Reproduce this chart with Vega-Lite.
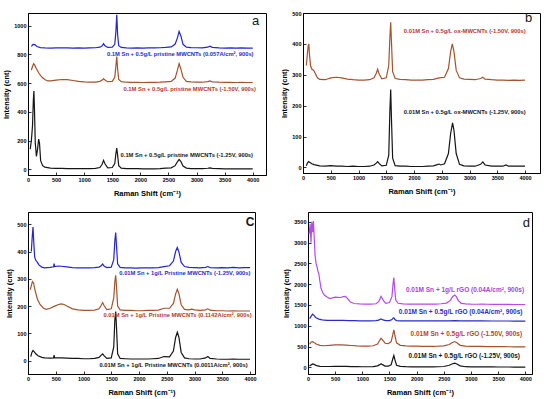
{
 "$schema": "https://vega.github.io/schema/vega-lite/v6.json",
 "padding": {"left": 2, "top": 10, "right": 0, "bottom": 0},
 "background": "white",
 "spacing": 13,
 "datasets": {
  "one": [{}],
  "a": [
   {"s":"a1","x":60,"y":855},{"s":"a1","x":90,"y":870},{"s":"a1","x":120,"y":868},{"s":"a1","x":160,"y":855},{"s":"a1","x":220,"y":847},{"s":"a1","x":300,"y":845},{"s":"a1","x":400,"y":844},{"s":"a1","x":500,"y":845},{"s":"a1","x":600,"y":846},{"s":"a1","x":700,"y":845},{"s":"a1","x":800,"y":844},{"s":"a1","x":900,"y":845},{"s":"a1","x":1000,"y":844},{"s":"a1","x":1100,"y":845},{"s":"a1","x":1200,"y":846},{"s":"a1","x":1280,"y":850},{"s":"a1","x":1320,"y":860},{"s":"a1","x":1345,"y":875},{"s":"a1","x":1370,"y":860},{"s":"a1","x":1420,"y":848},{"s":"a1","x":1500,"y":850},{"s":"a1","x":1545,"y":870},{"s":"a1","x":1565,"y":960},{"s":"a1","x":1580,"y":1075},{"s":"a1","x":1595,"y":940},{"s":"a1","x":1615,"y":860},{"s":"a1","x":1660,"y":848},{"s":"a1","x":1750,"y":845},{"s":"a1","x":1850,"y":844},{"s":"a1","x":1950,"y":845},{"s":"a1","x":2050,"y":844},{"s":"a1","x":2150,"y":845},{"s":"a1","x":2250,"y":845},{"s":"a1","x":2350,"y":846},{"s":"a1","x":2450,"y":848},{"s":"a1","x":2550,"y":852},{"s":"a1","x":2620,"y":872},{"s":"a1","x":2660,"y":915},{"s":"a1","x":2690,"y":960},{"s":"a1","x":2720,"y":930},{"s":"a1","x":2760,"y":870},{"s":"a1","x":2820,"y":850},{"s":"a1","x":2900,"y":847},{"s":"a1","x":3000,"y":846},{"s":"a1","x":3100,"y":845},{"s":"a1","x":3200,"y":850},{"s":"a1","x":3240,"y":857},{"s":"a1","x":3280,"y":849},{"s":"a1","x":3400,"y":845},{"s":"a1","x":3500,"y":844},{"s":"a1","x":3600,"y":845},{"s":"a1","x":3700,"y":844},{"s":"a1","x":3800,"y":845},{"s":"a1","x":3900,"y":844},{"s":"a1","x":4000,"y":843},
   {"s":"a2","x":60,"y":690},{"s":"a2","x":80,"y":715},{"s":"a2","x":100,"y":735},{"s":"a2","x":120,"y":725},{"s":"a2","x":150,"y":700},{"s":"a2","x":200,"y":665},{"s":"a2","x":250,"y":640},{"s":"a2","x":300,"y":625},{"s":"a2","x":350,"y":615},{"s":"a2","x":400,"y":615},{"s":"a2","x":500,"y":620},{"s":"a2","x":600,"y":625},{"s":"a2","x":700,"y":624},{"s":"a2","x":800,"y":618},{"s":"a2","x":900,"y":612},{"s":"a2","x":1000,"y":608},{"s":"a2","x":1100,"y":606},{"s":"a2","x":1200,"y":607},{"s":"a2","x":1280,"y":612},{"s":"a2","x":1320,"y":622},{"s":"a2","x":1345,"y":630},{"s":"a2","x":1370,"y":622},{"s":"a2","x":1420,"y":610},{"s":"a2","x":1500,"y":612},{"s":"a2","x":1545,"y":640},{"s":"a2","x":1565,"y":720},{"s":"a2","x":1580,"y":785},{"s":"a2","x":1595,"y":700},{"s":"a2","x":1615,"y":625},{"s":"a2","x":1660,"y":610},{"s":"a2","x":1750,"y":606},{"s":"a2","x":1850,"y":605},{"s":"a2","x":1950,"y":605},{"s":"a2","x":2050,"y":604},{"s":"a2","x":2150,"y":605},{"s":"a2","x":2250,"y":605},{"s":"a2","x":2350,"y":606},{"s":"a2","x":2450,"y":609},{"s":"a2","x":2550,"y":612},{"s":"a2","x":2620,"y":635},{"s":"a2","x":2660,"y":690},{"s":"a2","x":2690,"y":735},{"s":"a2","x":2720,"y":700},{"s":"a2","x":2760,"y":640},{"s":"a2","x":2820,"y":612},{"s":"a2","x":2900,"y":608},{"s":"a2","x":3000,"y":607},{"s":"a2","x":3100,"y":606},{"s":"a2","x":3200,"y":610},{"s":"a2","x":3240,"y":615},{"s":"a2","x":3280,"y":609},{"s":"a2","x":3400,"y":606},{"s":"a2","x":3500,"y":605},{"s":"a2","x":3600,"y":605},{"s":"a2","x":3700,"y":604},{"s":"a2","x":3800,"y":605},{"s":"a2","x":3900,"y":604},{"s":"a2","x":4000,"y":604},
   {"s":"a3","x":40,"y":140},{"s":"a3","x":60,"y":200},{"s":"a3","x":80,"y":300},{"s":"a3","x":95,"y":480},{"s":"a3","x":105,"y":545},{"s":"a3","x":115,"y":420},{"s":"a3","x":130,"y":180},{"s":"a3","x":150,"y":90},{"s":"a3","x":170,"y":140},{"s":"a3","x":190,"y":210},{"s":"a3","x":205,"y":180},{"s":"a3","x":225,"y":60},{"s":"a3","x":260,"y":25},{"s":"a3","x":300,"y":15},{"s":"a3","x":400,"y":8},{"s":"a3","x":500,"y":6},{"s":"a3","x":600,"y":6},{"s":"a3","x":700,"y":5},{"s":"a3","x":800,"y":5},{"s":"a3","x":900,"y":4},{"s":"a3","x":1000,"y":4},{"s":"a3","x":1100,"y":4},{"s":"a3","x":1200,"y":6},{"s":"a3","x":1280,"y":12},{"s":"a3","x":1320,"y":35},{"s":"a3","x":1345,"y":62},{"s":"a3","x":1370,"y":38},{"s":"a3","x":1420,"y":10},{"s":"a3","x":1500,"y":12},{"s":"a3","x":1545,"y":40},{"s":"a3","x":1565,"y":110},{"s":"a3","x":1580,"y":148},{"s":"a3","x":1595,"y":100},{"s":"a3","x":1615,"y":25},{"s":"a3","x":1660,"y":8},{"s":"a3","x":1750,"y":5},{"s":"a3","x":1850,"y":4},{"s":"a3","x":1950,"y":4},{"s":"a3","x":2050,"y":3},{"s":"a3","x":2150,"y":3},{"s":"a3","x":2250,"y":3},{"s":"a3","x":2350,"y":4},{"s":"a3","x":2450,"y":8},{"s":"a3","x":2550,"y":10},{"s":"a3","x":2620,"y":25},{"s":"a3","x":2660,"y":52},{"s":"a3","x":2690,"y":68},{"s":"a3","x":2720,"y":55},{"s":"a3","x":2760,"y":22},{"s":"a3","x":2820,"y":8},{"s":"a3","x":2900,"y":5},{"s":"a3","x":3000,"y":4},{"s":"a3","x":3100,"y":4},{"s":"a3","x":3200,"y":7},{"s":"a3","x":3240,"y":10},{"s":"a3","x":3280,"y":6},{"s":"a3","x":3400,"y":4},{"s":"a3","x":3500,"y":3},{"s":"a3","x":3600,"y":3},{"s":"a3","x":3700,"y":3},{"s":"a3","x":3800,"y":3},{"s":"a3","x":3900,"y":2},{"s":"a3","x":4000,"y":2}
  ],
  "b": [
   {"s":"b1","x":60,"y":330},{"s":"b1","x":80,"y":370},{"s":"b1","x":95,"y":395},{"s":"b1","x":105,"y":400},{"s":"b1","x":115,"y":370},{"s":"b1","x":135,"y":330},{"s":"b1","x":160,"y":318},{"s":"b1","x":190,"y":315},{"s":"b1","x":220,"y":305},{"s":"b1","x":260,"y":290},{"s":"b1","x":300,"y":285},{"s":"b1","x":400,"y":284},{"s":"b1","x":500,"y":290},{"s":"b1","x":600,"y":292},{"s":"b1","x":700,"y":290},{"s":"b1","x":800,"y":286},{"s":"b1","x":900,"y":284},{"s":"b1","x":1000,"y":283},{"s":"b1","x":1100,"y":283},{"s":"b1","x":1200,"y":284},{"s":"b1","x":1280,"y":290},{"s":"b1","x":1320,"y":305},{"s":"b1","x":1345,"y":318},{"s":"b1","x":1370,"y":303},{"s":"b1","x":1420,"y":287},{"s":"b1","x":1500,"y":290},{"s":"b1","x":1545,"y":330},{"s":"b1","x":1565,"y":420},{"s":"b1","x":1580,"y":470},{"s":"b1","x":1595,"y":400},{"s":"b1","x":1615,"y":310},{"s":"b1","x":1660,"y":288},{"s":"b1","x":1750,"y":285},{"s":"b1","x":1850,"y":284},{"s":"b1","x":1950,"y":283},{"s":"b1","x":2050,"y":283},{"s":"b1","x":2150,"y":283},{"s":"b1","x":2250,"y":284},{"s":"b1","x":2350,"y":285},{"s":"b1","x":2450,"y":290},{"s":"b1","x":2550,"y":292},{"s":"b1","x":2620,"y":320},{"s":"b1","x":2660,"y":375},{"s":"b1","x":2690,"y":400},{"s":"b1","x":2720,"y":375},{"s":"b1","x":2760,"y":315},{"s":"b1","x":2820,"y":290},{"s":"b1","x":2900,"y":286},{"s":"b1","x":3000,"y":285},{"s":"b1","x":3100,"y":284},{"s":"b1","x":3200,"y":288},{"s":"b1","x":3240,"y":292},{"s":"b1","x":3280,"y":286},{"s":"b1","x":3400,"y":284},{"s":"b1","x":3500,"y":283},{"s":"b1","x":3600,"y":283},{"s":"b1","x":3700,"y":282},{"s":"b1","x":3800,"y":283},{"s":"b1","x":3900,"y":282},{"s":"b1","x":4000,"y":283},
   {"s":"b2","x":60,"y":5},{"s":"b2","x":80,"y":14},{"s":"b2","x":100,"y":19},{"s":"b2","x":120,"y":17},{"s":"b2","x":160,"y":12},{"s":"b2","x":200,"y":9},{"s":"b2","x":300,"y":5},{"s":"b2","x":400,"y":4},{"s":"b2","x":500,"y":6},{"s":"b2","x":600,"y":4},{"s":"b2","x":700,"y":4},{"s":"b2","x":800,"y":3},{"s":"b2","x":900,"y":4},{"s":"b2","x":1000,"y":3},{"s":"b2","x":1100,"y":3},{"s":"b2","x":1200,"y":4},{"s":"b2","x":1280,"y":8},{"s":"b2","x":1320,"y":14},{"s":"b2","x":1345,"y":19},{"s":"b2","x":1370,"y":13},{"s":"b2","x":1420,"y":5},{"s":"b2","x":1500,"y":7},{"s":"b2","x":1545,"y":40},{"s":"b2","x":1565,"y":180},{"s":"b2","x":1580,"y":252},{"s":"b2","x":1595,"y":150},{"s":"b2","x":1615,"y":30},{"s":"b2","x":1660,"y":6},{"s":"b2","x":1750,"y":4},{"s":"b2","x":1850,"y":4},{"s":"b2","x":1950,"y":3},{"s":"b2","x":2050,"y":3},{"s":"b2","x":2150,"y":3},{"s":"b2","x":2250,"y":4},{"s":"b2","x":2350,"y":5},{"s":"b2","x":2420,"y":9},{"s":"b2","x":2450,"y":11},{"s":"b2","x":2480,"y":8},{"s":"b2","x":2550,"y":12},{"s":"b2","x":2620,"y":45},{"s":"b2","x":2660,"y":110},{"s":"b2","x":2695,"y":144},{"s":"b2","x":2720,"y":120},{"s":"b2","x":2760,"y":45},{"s":"b2","x":2820,"y":10},{"s":"b2","x":2900,"y":5},{"s":"b2","x":3000,"y":4},{"s":"b2","x":3100,"y":4},{"s":"b2","x":3200,"y":10},{"s":"b2","x":3240,"y":18},{"s":"b2","x":3280,"y":8},{"s":"b2","x":3400,"y":4},{"s":"b2","x":3500,"y":4},{"s":"b2","x":3600,"y":4},{"s":"b2","x":3660,"y":8},{"s":"b2","x":3700,"y":4},{"s":"b2","x":3800,"y":4},{"s":"b2","x":3900,"y":4},{"s":"b2","x":4000,"y":4}
  ],
  "c": [
   {"s":"c1","x":60,"y":400},{"s":"c1","x":75,"y":450},{"s":"c1","x":90,"y":490},{"s":"c1","x":105,"y":430},{"s":"c1","x":120,"y":380},{"s":"c1","x":140,"y":368},{"s":"c1","x":170,"y":360},{"s":"c1","x":200,"y":350},{"s":"c1","x":250,"y":343},{"s":"c1","x":300,"y":340},{"s":"c1","x":400,"y":342},{"s":"c1","x":460,"y":344},{"s":"c1","x":470,"y":356},{"s":"c1","x":480,"y":345},{"s":"c1","x":550,"y":347},{"s":"c1","x":600,"y":346},{"s":"c1","x":700,"y":344},{"s":"c1","x":800,"y":341},{"s":"c1","x":900,"y":340},{"s":"c1","x":1000,"y":340},{"s":"c1","x":1100,"y":340},{"s":"c1","x":1200,"y":341},{"s":"c1","x":1280,"y":343},{"s":"c1","x":1320,"y":348},{"s":"c1","x":1345,"y":354},{"s":"c1","x":1370,"y":347},{"s":"c1","x":1420,"y":341},{"s":"c1","x":1500,"y":343},{"s":"c1","x":1545,"y":370},{"s":"c1","x":1565,"y":440},{"s":"c1","x":1580,"y":470},{"s":"c1","x":1595,"y":420},{"s":"c1","x":1615,"y":355},{"s":"c1","x":1660,"y":342},{"s":"c1","x":1750,"y":340},{"s":"c1","x":1850,"y":340},{"s":"c1","x":1950,"y":339},{"s":"c1","x":2050,"y":340},{"s":"c1","x":2150,"y":340},{"s":"c1","x":2250,"y":340},{"s":"c1","x":2350,"y":341},{"s":"c1","x":2450,"y":345},{"s":"c1","x":2550,"y":348},{"s":"c1","x":2620,"y":365},{"s":"c1","x":2660,"y":400},{"s":"c1","x":2690,"y":415},{"s":"c1","x":2720,"y":398},{"s":"c1","x":2760,"y":360},{"s":"c1","x":2820,"y":345},{"s":"c1","x":2900,"y":342},{"s":"c1","x":3000,"y":341},{"s":"c1","x":3100,"y":340},{"s":"c1","x":3200,"y":342},{"s":"c1","x":3240,"y":345},{"s":"c1","x":3280,"y":341},{"s":"c1","x":3400,"y":340},{"s":"c1","x":3500,"y":341},{"s":"c1","x":3600,"y":340},{"s":"c1","x":3700,"y":342},{"s":"c1","x":3800,"y":340},{"s":"c1","x":3900,"y":341},{"s":"c1","x":4000,"y":341},
   {"s":"c2","x":40,"y":260},{"s":"c2","x":60,"y":275},{"s":"c2","x":80,"y":290},{"s":"c2","x":100,"y":285},{"s":"c2","x":130,"y":255},{"s":"c2","x":170,"y":225},{"s":"c2","x":220,"y":205},{"s":"c2","x":280,"y":192},{"s":"c2","x":330,"y":188},{"s":"c2","x":400,"y":192},{"s":"c2","x":480,"y":200},{"s":"c2","x":550,"y":206},{"s":"c2","x":600,"y":208},{"s":"c2","x":650,"y":206},{"s":"c2","x":700,"y":200},{"s":"c2","x":800,"y":190},{"s":"c2","x":900,"y":186},{"s":"c2","x":1000,"y":184},{"s":"c2","x":1100,"y":184},{"s":"c2","x":1200,"y":185},{"s":"c2","x":1280,"y":190},{"s":"c2","x":1320,"y":203},{"s":"c2","x":1345,"y":213},{"s":"c2","x":1370,"y":202},{"s":"c2","x":1420,"y":187},{"s":"c2","x":1500,"y":190},{"s":"c2","x":1545,"y":230},{"s":"c2","x":1565,"y":290},{"s":"c2","x":1580,"y":313},{"s":"c2","x":1595,"y":270},{"s":"c2","x":1615,"y":200},{"s":"c2","x":1660,"y":186},{"s":"c2","x":1750,"y":184},{"s":"c2","x":1850,"y":184},{"s":"c2","x":1950,"y":183},{"s":"c2","x":2050,"y":183},{"s":"c2","x":2150,"y":184},{"s":"c2","x":2250,"y":184},{"s":"c2","x":2350,"y":185},{"s":"c2","x":2450,"y":192},{"s":"c2","x":2550,"y":192},{"s":"c2","x":2620,"y":210},{"s":"c2","x":2660,"y":245},{"s":"c2","x":2690,"y":262},{"s":"c2","x":2720,"y":245},{"s":"c2","x":2760,"y":205},{"s":"c2","x":2820,"y":188},{"s":"c2","x":2900,"y":186},{"s":"c2","x":2950,"y":189},{"s":"c2","x":3000,"y":186},{"s":"c2","x":3100,"y":184},{"s":"c2","x":3200,"y":186},{"s":"c2","x":3240,"y":190},{"s":"c2","x":3280,"y":185},{"s":"c2","x":3400,"y":183},{"s":"c2","x":3500,"y":183},{"s":"c2","x":3600,"y":182},{"s":"c2","x":3700,"y":183},{"s":"c2","x":3800,"y":182},{"s":"c2","x":3900,"y":182},{"s":"c2","x":4000,"y":182},
   {"s":"c3","x":50,"y":15},{"s":"c3","x":70,"y":30},{"s":"c3","x":90,"y":37},{"s":"c3","x":110,"y":33},{"s":"c3","x":140,"y":25},{"s":"c3","x":180,"y":18},{"s":"c3","x":250,"y":12},{"s":"c3","x":300,"y":10},{"s":"c3","x":400,"y":9},{"s":"c3","x":460,"y":10},{"s":"c3","x":470,"y":20},{"s":"c3","x":480,"y":10},{"s":"c3","x":550,"y":10},{"s":"c3","x":600,"y":10},{"s":"c3","x":700,"y":9},{"s":"c3","x":800,"y":8},{"s":"c3","x":900,"y":8},{"s":"c3","x":1000,"y":7},{"s":"c3","x":1100,"y":7},{"s":"c3","x":1200,"y":8},{"s":"c3","x":1280,"y":12},{"s":"c3","x":1320,"y":20},{"s":"c3","x":1345,"y":25},{"s":"c3","x":1370,"y":18},{"s":"c3","x":1420,"y":8},{"s":"c3","x":1500,"y":10},{"s":"c3","x":1545,"y":50},{"s":"c3","x":1565,"y":150},{"s":"c3","x":1580,"y":180},{"s":"c3","x":1595,"y":120},{"s":"c3","x":1615,"y":25},{"s":"c3","x":1660,"y":8},{"s":"c3","x":1750,"y":7},{"s":"c3","x":1850,"y":6},{"s":"c3","x":1950,"y":6},{"s":"c3","x":2050,"y":6},{"s":"c3","x":2150,"y":6},{"s":"c3","x":2250,"y":7},{"s":"c3","x":2350,"y":8},{"s":"c3","x":2450,"y":15},{"s":"c3","x":2550,"y":14},{"s":"c3","x":2620,"y":35},{"s":"c3","x":2660,"y":85},{"s":"c3","x":2690,"y":104},{"s":"c3","x":2720,"y":85},{"s":"c3","x":2760,"y":30},{"s":"c3","x":2820,"y":10},{"s":"c3","x":2900,"y":7},{"s":"c3","x":3000,"y":6},{"s":"c3","x":3100,"y":6},{"s":"c3","x":3200,"y":10},{"s":"c3","x":3240,"y":15},{"s":"c3","x":3280,"y":8},{"s":"c3","x":3400,"y":6},{"s":"c3","x":3500,"y":5},{"s":"c3","x":3600,"y":5},{"s":"c3","x":3700,"y":6},{"s":"c3","x":3800,"y":5},{"s":"c3","x":3900,"y":5},{"s":"c3","x":4000,"y":5}
  ],
  "d": [
   {"s":"d1","x":20,"y":3200},{"s":"d1","x":40,"y":3450},{"s":"d1","x":55,"y":3000},{"s":"d1","x":70,"y":3500},{"s":"d1","x":85,"y":3250},{"s":"d1","x":100,"y":3520},{"s":"d1","x":115,"y":3100},{"s":"d1","x":130,"y":2700},{"s":"d1","x":150,"y":2480},{"s":"d1","x":170,"y":2400},{"s":"d1","x":185,"y":2300},{"s":"d1","x":200,"y":2250},{"s":"d1","x":215,"y":2100},{"s":"d1","x":240,"y":1900},{"s":"d1","x":270,"y":1800},{"s":"d1","x":300,"y":1740},{"s":"d1","x":350,"y":1690},{"s":"d1","x":400,"y":1655},{"s":"d1","x":450,"y":1670},{"s":"d1","x":500,"y":1690},{"s":"d1","x":550,"y":1685},{"s":"d1","x":600,"y":1680},{"s":"d1","x":650,"y":1700},{"s":"d1","x":690,"y":1705},{"s":"d1","x":730,"y":1650},{"s":"d1","x":780,"y":1570},{"s":"d1","x":850,"y":1535},{"s":"d1","x":950,"y":1525},{"s":"d1","x":1050,"y":1520},{"s":"d1","x":1150,"y":1520},{"s":"d1","x":1250,"y":1530},{"s":"d1","x":1300,"y":1580},{"s":"d1","x":1345,"y":1705},{"s":"d1","x":1380,"y":1620},{"s":"d1","x":1430,"y":1540},{"s":"d1","x":1500,"y":1560},{"s":"d1","x":1545,"y":1700},{"s":"d1","x":1565,"y":2000},{"s":"d1","x":1580,"y":2160},{"s":"d1","x":1595,"y":1900},{"s":"d1","x":1615,"y":1620},{"s":"d1","x":1660,"y":1540},{"s":"d1","x":1750,"y":1525},{"s":"d1","x":1850,"y":1522},{"s":"d1","x":1950,"y":1520},{"s":"d1","x":2050,"y":1520},{"s":"d1","x":2150,"y":1520},{"s":"d1","x":2250,"y":1520},{"s":"d1","x":2350,"y":1522},{"s":"d1","x":2450,"y":1530},{"s":"d1","x":2550,"y":1545},{"s":"d1","x":2620,"y":1610},{"s":"d1","x":2660,"y":1700},{"s":"d1","x":2700,"y":1740},{"s":"d1","x":2730,"y":1700},{"s":"d1","x":2770,"y":1600},{"s":"d1","x":2820,"y":1540},{"s":"d1","x":2900,"y":1525},{"s":"d1","x":3000,"y":1520},{"s":"d1","x":3100,"y":1518},{"s":"d1","x":3200,"y":1520},{"s":"d1","x":3300,"y":1517},{"s":"d1","x":3400,"y":1515},{"s":"d1","x":3500,"y":1515},{"s":"d1","x":3600,"y":1514},{"s":"d1","x":3700,"y":1513},{"s":"d1","x":3800,"y":1512},{"s":"d1","x":3900,"y":1512},{"s":"d1","x":4000,"y":1512},
   {"s":"d2","x":30,"y":1170},{"s":"d2","x":60,"y":1230},{"s":"d2","x":85,"y":1280},{"s":"d2","x":110,"y":1250},{"s":"d2","x":140,"y":1200},{"s":"d2","x":200,"y":1160},{"s":"d2","x":260,"y":1140},{"s":"d2","x":350,"y":1130},{"s":"d2","x":450,"y":1128},{"s":"d2","x":550,"y":1130},{"s":"d2","x":650,"y":1130},{"s":"d2","x":750,"y":1126},{"s":"d2","x":850,"y":1122},{"s":"d2","x":950,"y":1120},{"s":"d2","x":1050,"y":1120},{"s":"d2","x":1150,"y":1120},{"s":"d2","x":1250,"y":1122},{"s":"d2","x":1300,"y":1135},{"s":"d2","x":1345,"y":1165},{"s":"d2","x":1380,"y":1140},{"s":"d2","x":1430,"y":1122},{"s":"d2","x":1500,"y":1125},{"s":"d2","x":1545,"y":1150},{"s":"d2","x":1570,"y":1190},{"s":"d2","x":1585,"y":1185},{"s":"d2","x":1600,"y":1150},{"s":"d2","x":1630,"y":1125},{"s":"d2","x":1700,"y":1120},{"s":"d2","x":1800,"y":1118},{"s":"d2","x":1900,"y":1118},{"s":"d2","x":2000,"y":1117},{"s":"d2","x":2200,"y":1117},{"s":"d2","x":2400,"y":1118},{"s":"d2","x":2600,"y":1120},{"s":"d2","x":2700,"y":1125},{"s":"d2","x":2800,"y":1120},{"s":"d2","x":3000,"y":1117},{"s":"d2","x":3200,"y":1116},{"s":"d2","x":3400,"y":1115},{"s":"d2","x":3600,"y":1115},{"s":"d2","x":3800,"y":1114},{"s":"d2","x":4000,"y":1114},
   {"s":"d3","x":30,"y":560},{"s":"d3","x":60,"y":610},{"s":"d3","x":85,"y":620},{"s":"d3","x":110,"y":600},{"s":"d3","x":150,"y":560},{"s":"d3","x":220,"y":530},{"s":"d3","x":300,"y":520},{"s":"d3","x":400,"y":530},{"s":"d3","x":500,"y":540},{"s":"d3","x":600,"y":540},{"s":"d3","x":700,"y":535},{"s":"d3","x":800,"y":525},{"s":"d3","x":900,"y":515},{"s":"d3","x":1000,"y":512},{"s":"d3","x":1100,"y":512},{"s":"d3","x":1200,"y":520},{"s":"d3","x":1280,"y":560},{"s":"d3","x":1320,"y":650},{"s":"d3","x":1345,"y":700},{"s":"d3","x":1370,"y":660},{"s":"d3","x":1420,"y":580},{"s":"d3","x":1480,"y":570},{"s":"d3","x":1530,"y":620},{"s":"d3","x":1560,"y":780},{"s":"d3","x":1580,"y":900},{"s":"d3","x":1600,"y":760},{"s":"d3","x":1630,"y":590},{"s":"d3","x":1700,"y":530},{"s":"d3","x":1800,"y":515},{"s":"d3","x":1900,"y":510},{"s":"d3","x":2000,"y":508},{"s":"d3","x":2100,"y":506},{"s":"d3","x":2200,"y":505},{"s":"d3","x":2300,"y":505},{"s":"d3","x":2400,"y":508},{"s":"d3","x":2500,"y":515},{"s":"d3","x":2600,"y":550},{"s":"d3","x":2650,"y":590},{"s":"d3","x":2700,"y":620},{"s":"d3","x":2740,"y":590},{"s":"d3","x":2800,"y":530},{"s":"d3","x":2900,"y":510},{"s":"d3","x":3000,"y":505},{"s":"d3","x":3100,"y":502},{"s":"d3","x":3200,"y":505},{"s":"d3","x":3300,"y":500},{"s":"d3","x":3400,"y":498},{"s":"d3","x":3500,"y":497},{"s":"d3","x":3600,"y":496},{"s":"d3","x":3700,"y":495},{"s":"d3","x":3800,"y":494},{"s":"d3","x":3900,"y":492},{"s":"d3","x":4000,"y":492},
   {"s":"d4","x":30,"y":30},{"s":"d4","x":60,"y":60},{"s":"d4","x":90,"y":80},{"s":"d4","x":120,"y":65},{"s":"d4","x":160,"y":40},{"s":"d4","x":220,"y":25},{"s":"d4","x":300,"y":20},{"s":"d4","x":400,"y":20},{"s":"d4","x":500,"y":25},{"s":"d4","x":600,"y":25},{"s":"d4","x":700,"y":22},{"s":"d4","x":800,"y":18},{"s":"d4","x":900,"y":15},{"s":"d4","x":1000,"y":14},{"s":"d4","x":1100,"y":14},{"s":"d4","x":1200,"y":18},{"s":"d4","x":1280,"y":35},{"s":"d4","x":1320,"y":65},{"s":"d4","x":1345,"y":85},{"s":"d4","x":1370,"y":65},{"s":"d4","x":1420,"y":30},{"s":"d4","x":1480,"y":28},{"s":"d4","x":1530,"y":60},{"s":"d4","x":1560,"y":200},{"s":"d4","x":1580,"y":285},{"s":"d4","x":1600,"y":180},{"s":"d4","x":1630,"y":50},{"s":"d4","x":1700,"y":22},{"s":"d4","x":1800,"y":15},{"s":"d4","x":1900,"y":13},{"s":"d4","x":2000,"y":12},{"s":"d4","x":2100,"y":12},{"s":"d4","x":2200,"y":12},{"s":"d4","x":2300,"y":12},{"s":"d4","x":2400,"y":14},{"s":"d4","x":2500,"y":20},{"s":"d4","x":2600,"y":50},{"s":"d4","x":2650,"y":80},{"s":"d4","x":2700,"y":100},{"s":"d4","x":2740,"y":80},{"s":"d4","x":2800,"y":35},{"s":"d4","x":2900,"y":15},{"s":"d4","x":3000,"y":12},{"s":"d4","x":3100,"y":10},{"s":"d4","x":3200,"y":12},{"s":"d4","x":3300,"y":10},{"s":"d4","x":3400,"y":9},{"s":"d4","x":3500,"y":8},{"s":"d4","x":3600,"y":8},{"s":"d4","x":3700,"y":8},{"s":"d4","x":3800,"y":7},{"s":"d4","x":3900,"y":7},{"s":"d4","x":4000,"y":7}
  ]
 },
 "vconcat": [
  {
   "hconcat": [
    {
     "width": 238, "height": 162,
     "encoding": {
      "x": {"type": "quantitative", "scale": {"domain": [0, 4237], "nice": false, "zero": false}, "axis": {"values": [0,500,1000,1500,2000,2500,3000,3500,4000], "title": "Raman Shift (cm⁻¹)"}},
      "y": {"type": "quantitative", "scale": {"domain": [-40, 1088], "nice": false, "zero": false}, "axis": {"values": [0,200,400,600,800,1000], "title": "Intensity (cnt)"}}
     },
     "layer": [
      {"data": {"name": "a"}, "mark": {"type": "line", "strokeWidth": 1.2}, "encoding": {"x": {"field": "x", "type": "quantitative"}, "y": {"field": "y", "type": "quantitative"}, "color": {"field": "s", "type": "nominal", "legend": null, "scale": {"domain": ["a1","a2","a3","b1","b2","c1","c2","c3","d1","d2","d3","d4"], "range": ["#2424d4","#a4532d","#151515","#a4532d","#151515","#2424d4","#a4532d","#151515","#b44af0","#2a2ad0","#a4532d","#151515"]}}}},
      {"data": {"name": "one"}, "mark": {"type": "text", "fill": "#2a2ad0"}, "encoding": {"x": {"datum": 2711}, "y": {"datum": 805}, "text": {"value": "0.1M Sn + 0.5g/L pristine MWCNTs (0.057A/cm², 900s)"}}},
      {"data": {"name": "one"}, "mark": {"type": "text", "fill": "#b8372a"}, "encoding": {"x": {"datum": 2880}, "y": {"datum": 558}, "text": {"value": "0.1M Sn + 0.5g/L pristine MWCNTs (-1.50V, 900s)"}}},
      {"data": {"name": "one"}, "mark": {"type": "text", "fill": "#151515"}, "encoding": {"x": {"datum": 2827}, "y": {"datum": 100}, "text": {"value": "0.1M Sn + 0.5g/L pristine MWCNTs (-1.25V, 900s)"}}},
      {"data": {"name": "one"}, "mark": {"type": "text", "fill": "#151515", "fontSize": 13, "fontWeight": "normal"}, "encoding": {"x": {"datum": 4053}, "y": {"datum": 1033}, "text": {"value": "a"}}}
     ]
    },
    {
     "width": 237, "height": 160,
     "encoding": {
      "x": {"type": "quantitative", "scale": {"domain": [0, 4270], "nice": false, "zero": false}, "axis": {"values": [0,500,1000,1500,2000,2500,3000,3500,4000], "title": "Raman Shift (cm⁻¹)"}},
      "y": {"type": "quantitative", "scale": {"domain": [-18, 500], "nice": false, "zero": false}, "axis": {"values": [0,100,200,300,400,500], "title": "Intensity (cnt)"}}
     },
     "layer": [
      {"data": {"name": "b"}, "mark": {"type": "line", "strokeWidth": 1.2}, "encoding": {"x": {"field": "x", "type": "quantitative"}, "y": {"field": "y", "type": "quantitative"}, "color": {"field": "s", "type": "nominal", "legend": null, "scale": {"domain": ["a1","a2","a3","b1","b2","c1","c2","c3","d1","d2","d3","d4"], "range": ["#2424d4","#a4532d","#151515","#a4532d","#151515","#2424d4","#a4532d","#151515","#b44af0","#2a2ad0","#a4532d","#151515"]}}}},
      {"data": {"name": "one"}, "mark": {"type": "text", "fill": "#b8372a"}, "encoding": {"x": {"datum": 2915}, "y": {"datum": 441}, "text": {"value": "0.01M Sn + 0.5g/L ox-MWCNTs (-1.50V, 900s)"}}},
      {"data": {"name": "one"}, "mark": {"type": "text", "fill": "#151515"}, "encoding": {"x": {"datum": 2915}, "y": {"datum": 181}, "text": {"value": "0.01M Sn + 0.5g/L ox-MWCNTs (-1.25V, 900s)"}}},
      {"data": {"name": "one"}, "mark": {"type": "text", "fill": "#151515", "fontSize": 13, "fontWeight": "normal"}, "encoding": {"x": {"datum": 4067}, "y": {"datum": 484}, "text": {"value": "b"}}}
     ]
    }
   ],
   "spacing": 37,
   "bounds": "flush"
  },
  {
   "hconcat": [
    {
     "width": 227, "height": 162,
     "encoding": {
      "x": {"type": "quantitative", "scale": {"domain": [0, 4090], "nice": false, "zero": false}, "axis": {"values": [0,500,1000,1500,2000,2500,3000,3500,4000], "title": "Raman Shift (cm⁻¹)"}},
      "y": {"type": "quantitative", "scale": {"domain": [-49, 545], "nice": false, "zero": false}, "axis": {"values": [0,100,200,300,400,500], "title": "Intensity (cnt)"}}
     },
     "layer": [
      {"data": {"name": "c"}, "mark": {"type": "line", "strokeWidth": 1.2}, "encoding": {"x": {"field": "x", "type": "quantitative"}, "y": {"field": "y", "type": "quantitative"}, "color": {"field": "s", "type": "nominal", "legend": null, "scale": {"domain": ["a1","a2","a3","b1","b2","c1","c2","c3","d1","d2","d3","d4"], "range": ["#2424d4","#a4532d","#151515","#a4532d","#151515","#2424d4","#a4532d","#151515","#b44af0","#2a2ad0","#a4532d","#151515"]}}}},
      {"data": {"name": "one"}, "mark": {"type": "text", "fill": "#2a2ad0"}, "encoding": {"x": {"datum": 2827}, "y": {"datum": 321}, "text": {"value": "0.01M Sn + 1g/L Pristine MWCNTs (-1.25V, 900s)"}}},
      {"data": {"name": "one"}, "mark": {"type": "text", "fill": "#b8372a"}, "encoding": {"x": {"datum": 2695}, "y": {"datum": 168}, "text": {"value": "0.01M Sn + 1g/L Pristine MWCNTs (0.1142A/cm², 900s)"}}},
      {"data": {"name": "one"}, "mark": {"type": "text", "fill": "#151515"}, "encoding": {"x": {"datum": 2623}, "y": {"datum": -15}, "text": {"value": "0.01M Sn + 1g/L Pristine MWCNTs (0.0011A/cm², 900s)"}}},
      {"data": {"name": "one"}, "mark": {"type": "text", "fill": "#151515", "fontSize": 12, "fontWeight": "bold"}, "encoding": {"x": {"datum": 4000}, "y": {"datum": 509}, "text": {"value": "C"}}}
     ]
    },
    {
     "width": 224, "height": 162,
     "encoding": {
      "x": {"type": "quantitative", "scale": {"domain": [0, 4123], "nice": false, "zero": false}, "axis": {"values": [0,500,1000,1500,2000,2500,3000,3500,4000], "title": "Raman Shift (cm⁻¹)"}},
      "y": {"type": "quantitative", "scale": {"domain": [-160, 3736], "nice": false, "zero": false}, "axis": {"values": [0,500,1000,1500,2000,2500,3000,3500], "title": "Intensity (cnt)"}}
     },
     "layer": [
      {"data": {"name": "d"}, "mark": {"type": "line", "strokeWidth": 1.2}, "encoding": {"x": {"field": "x", "type": "quantitative"}, "y": {"field": "y", "type": "quantitative"}, "color": {"field": "s", "type": "nominal", "legend": null, "scale": {"domain": ["a1","a2","a3","b1","b2","c1","c2","c3","d1","d2","d3","d4"], "range": ["#2424d4","#a4532d","#151515","#a4532d","#151515","#2424d4","#a4532d","#151515","#b44af0","#2a2ad0","#a4532d","#151515"]}}}},
      {"data": {"name": "one"}, "mark": {"type": "text", "fill": "#a844d8", "fontSize": 6.5}, "encoding": {"x": {"datum": 2890}, "y": {"datum": 1864}, "text": {"value": "0.01M Sn + 1g/L rGO (0.04A/cm², 900s)"}}},
      {"data": {"name": "one"}, "mark": {"type": "text", "fill": "#2a2ad0", "fontSize": 6.5}, "encoding": {"x": {"datum": 2810}, "y": {"datum": 1336}, "text": {"value": "0.01M Sn + 0.5g/L rGO (0.04A/cm², 900s)"}}},
      {"data": {"name": "one"}, "mark": {"type": "text", "fill": "#b8452a", "fontSize": 6.5}, "encoding": {"x": {"datum": 2914}, "y": {"datum": 800}, "text": {"value": "0.01M Sn + 0.5g/L rGO (-1.50V, 900s)"}}},
      {"data": {"name": "one"}, "mark": {"type": "text", "fill": "#151515", "fontSize": 6.5}, "encoding": {"x": {"datum": 2877}, "y": {"datum": 280}, "text": {"value": "0.01M Sn + 0.5g/L rGO (-1.25V, 900s)"}}},
      {"data": {"name": "one"}, "mark": {"type": "text", "fill": "#151515", "fontSize": 13, "fontWeight": "normal"}, "encoding": {"x": {"datum": 4018}, "y": {"datum": 3480}, "text": {"value": "d"}}}
     ]
    }
   ],
   "spacing": 53,
   "bounds": "flush"
  }
 ],
 "config": {
  "font": "Liberation Sans",
  "view": {"stroke": "#000000", "strokeWidth": 1},
  "axis": {"grid": false, "format": "d", "domainColor": "#000000", "tickColor": "#000000", "labelColor": "#000000", "titleColor": "#000000", "labelFont": "Liberation Sans", "titleFont": "Liberation Sans", "labelFontSize": 5.5, "labelFontWeight": "bold", "titleFontSize": 7.5, "titleFontWeight": "bold", "tickSize": -3, "tickWidth": 0.8, "labelPadding": 5, "titlePadding": 3, "labelFlush": false, "labelOverlap": false},
  "axisX": {"titlePadding": 7},
  "text": {"font": "Liberation Sans", "fontWeight": "bold", "fontSize": 5.8, "align": "center", "baseline": "middle"}
 }
}
